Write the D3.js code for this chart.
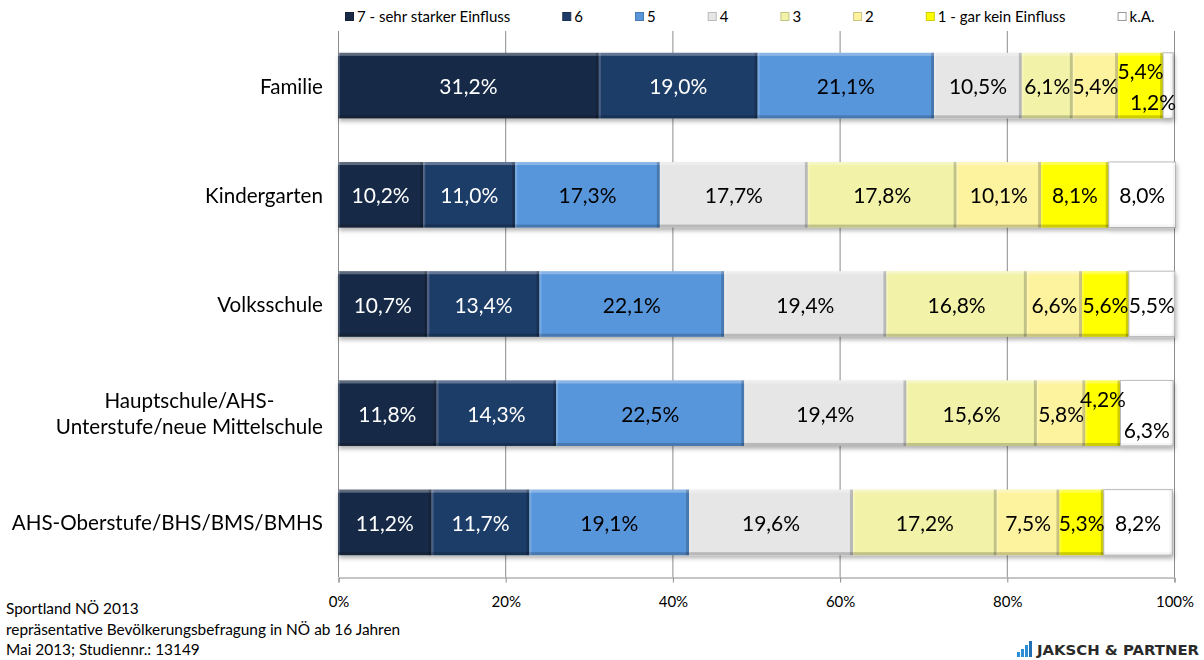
<!DOCTYPE html>
<html>
<head>
<meta charset="utf-8">
<script src="https://cdn.jsdelivr.net/npm/d3@7"></script>
<style>
  body { margin: 0; background: #fff; }
  svg { display: block; font-family: Lato, "Open Sans", sans-serif; }
</style>
</head>
<body>
<script>
// categories (top to bottom)
const categories = [
  "Familie",
  "Kindergarten",
  "Volksschule",
  "Hauptschule/AHS-\nUnterstufe/neue Mittelschule",
  "AHS-Oberstufe/BHS/BMS/BMHS"
];

// series names, legend order
const seriesNames = ["7 - sehr starker Einfluss", "6", "5", "4", "3", "2", "1 - gar kein Einfluss", "k.A."];
const seriesColors = ["#182a47", "#1f3c68", "#5896dc", "#e6e6e6", "#f2f3a8", "#fdf39f", "#ffff00", "#ffffff"];
const labelColors = ["#fff", "#fff", "#000", "#000", "#000", "#000", "#000", "#000"];

// values in percent, one per category
const s7 = [31.2, 10.2, 10.7, 11.8, 11.2];
const s6 = [19.0, 11.0, 13.4, 14.3, 11.7];
const s5 = [21.1, 17.3, 22.1, 22.5, 19.1];
const s4 = [10.5, 17.7, 19.4, 19.4, 19.6];
const s3 = [6.1, 17.8, 16.8, 15.6, 17.2];
const s2 = [5.4, 10.1, 6.6, 5.8, 7.5];
const s1 = [5.4, 8.1, 5.6, 4.2, 5.3];
const sKA = [1.2, 8.0, 5.5, 6.3, 8.2];

const xTicks = [0, 20, 40, 60, 80, 100];

const footerLines = [
  "Sportland NÖ 2013",
  "repräsentative Bevölkerungsbefragung in NÖ ab 16 Jahren",
  "Mai 2013; Studiennr.: 13149"
];

const width = 1204, height = 660;
const margin = { top: 31, right: 30, bottom: 83, left: 338 };

const svg = d3.select("body").append("svg")
  .attr("width", width)
  .attr("height", height);

const defs = svg.append("defs");
defs.append("filter").attr("id", "shadow")
  .attr("x", "-5%").attr("y", "-20%").attr("width", "110%").attr("height", "150%")
  .append("feDropShadow")
  .attr("dx", 1).attr("dy", 3).attr("stdDeviation", 2)
  .attr("flood-color", "#000").attr("flood-opacity", 0.3);

const allSeries = [s7, s6, s5, s4, s3, s2, s1, sKA];
const rows = categories.map((c, i) => {
  const r = { cat: c };
  seriesNames.forEach((s, j) => { r[s] = allSeries[j][i]; });
  return r;
});

const stack = d3.stack().keys(seriesNames);
const stacked = stack(rows);

const x = d3.scaleLinear().domain([0, 100]).range([margin.left, width - margin.right]);
const y = d3.scaleBand().domain(categories)
  .range([margin.top, height - margin.bottom])
  .paddingInner(0.4).paddingOuter(0.2);

// gridlines
svg.append("g").selectAll("line")
  .data(xTicks)
  .join("line")
  .attr("x1", d => x(d) + 0.5).attr("x2", d => x(d) + 0.5)
  .attr("y1", margin.top).attr("y2", height - margin.bottom)
  .attr("stroke", "#8c8c8c").attr("stroke-width", 1);

// x axis
const xAxis = svg.append("g")
  .attr("transform", `translate(0.5,${height - margin.bottom + 0.5})`)
  .call(d3.axisBottom(x).tickValues(xTicks).tickFormat(d => d + "%").tickSize(5).tickPadding(14));
xAxis.select(".domain").attr("stroke", "#8c8c8c");
xAxis.selectAll(".tick line").attr("stroke", "#8c8c8c");
xAxis.selectAll(".tick text")
  .attr("font-family", "Lato, sans-serif").attr("font-size", 15).attr("fill", "#000");

// bars
const barsG = svg.append("g").attr("filter", "url(#shadow)");
stacked.forEach((layer, j) => {
  const g = barsG.append("g");
  layer.forEach((d, i) => {
    const x0 = x(d[0]), x1 = x(d[1]);
    const yy = y(categories[i]), h = y.bandwidth(), w = x1 - x0;
    const seg = g.append("g");
    seg.append("rect")
      .attr("x", x0).attr("y", yy).attr("width", w).attr("height", h)
      .attr("fill", seriesColors[j])
      .attr("stroke", j === 7 ? "#b0b0b0" : "none");
    // bevel highlights
    seg.append("rect").attr("x", x0).attr("y", yy).attr("width", w).attr("height", 3)
      .attr("fill", "#fff").attr("opacity", 0.3);
    seg.append("rect").attr("x", x0).attr("y", yy).attr("width", 2).attr("height", h)
      .attr("fill", "#fff").attr("opacity", 0.18);
    seg.append("rect").attr("x", x0).attr("y", yy + h - 3).attr("width", w).attr("height", 3)
      .attr("fill", "#000").attr("opacity", j === 7 ? 0.04 : 0.2);
    seg.append("rect").attr("x", x1 - 3).attr("y", yy).attr("width", 3).attr("height", h)
      .attr("fill", "#000").attr("opacity", j === 7 ? 0.04 : 0.2);
  });
});

// bar labels
const labelG = svg.append("g").attr("font-size", 21).attr("text-anchor", "middle");
const fmt = v => v.toFixed(1).replace(".", ",") + "%";
categories.forEach((c, i) => {
  const items = stacked.map((layer, j) => {
    const d = layer[i];
    return { j, v: d.data[seriesNames[j]], x0: x(d[0]), x1: x(d[1]) };
  });
  items.forEach(it => {
    it.t = labelG.append("text")
      .attr("fill", labelColors[it.j])
      .attr("dominant-baseline", "central")
      .text(fmt(it.v));
    it.w = it.t.node().getComputedTextLength();
  });
  const cy = y(c) + y.bandwidth() / 2;
  const n = items.length;
  const last = items[n - 1], prev = items[n - 2];
  const crowded = (last.w > last.x1 - last.x0 + 4) || (prev.w > prev.x1 - prev.x0 + 4);
  items.forEach((it, k) => {
    let cx = (it.x0 + it.x1) / 2;
    const maxRight = x(100) + 2;
    if (cx + it.w / 2 > maxRight) cx = maxRight - it.w / 2;
    let dy = 0;
    if (crowded && k === n - 2) dy = -15;
    if (crowded && k === n - 1) dy = 16;
    it.t.attr("x", cx).attr("y", cy + dy);
  });
});

// category labels
const catG = svg.append("g").attr("font-size", 20.6).attr("fill", "#000");
categories.forEach(c => {
  const lines = c.split("\n");
  const t = catG.append("text").attr("text-anchor", "middle");
  const tsp = lines.map(l => t.append("tspan").text(l));
  const maxW = d3.max(tsp, s => s.node().getComputedTextLength());
  const cx = 323 - maxW / 2;
  const cy = y(c) + y.bandwidth() / 2;
  const lh = 26;
  tsp.forEach((s, k) => {
    s.attr("x", cx).attr("y", cy + (k - (lines.length - 1) / 2) * lh).attr("dominant-baseline", "central");
  });
});

// legend
const legend = svg.append("g").attr("font-size", 15);
let lx = 345;
seriesNames.forEach((s, j) => {
  const item = legend.append("g").attr("transform", `translate(${lx},0)`);
  item.append("rect").attr("x", 0.5).attr("y", 12.5).attr("width", 8).attr("height", 8)
    .attr("fill", seriesColors[j]).attr("stroke", j === 7 ? "#999" : d3.color(seriesColors[j]).darker(0.6));
  const t = item.append("text").attr("x", 12).attr("y", 22).attr("fill", "#000").text(s);
  const w = t.node().getComputedTextLength();
  lx += Math.max(68.5, w + 64);
});

// footer
const foot = svg.append("g").attr("font-size", 15.4).attr("fill", "#000");
footerLines.forEach((l, k) => {
  foot.append("text").attr("x", 6).attr("y", 614 + k * 20.5).text(l);
});

// logo
const logo = svg.append("g");
const logoBars = [5, 8, 12, 16];
logo.selectAll("rect").data(logoBars).join("rect")
  .attr("x", (d, i) => 1017 + i * 4)
  .attr("y", d => 657 - d)
  .attr("width", 3).attr("height", d => d)
  .attr("fill", (d, i) => i === 3 ? "#1e6fb5" : "#2c8fd6");
logo.append("text")
  .attr("x", 1037).attr("y", 655)
  .attr("font-family", "'DejaVu Sans', sans-serif")
  .attr("font-weight", "bold").attr("font-size", 14)
  .attr("fill", "#2a2a2a")
  .attr("textLength", 162).attr("lengthAdjust", "spacingAndGlyphs")
  .text("JAKSCH & PARTNER");
</script>
</body>
</html>
